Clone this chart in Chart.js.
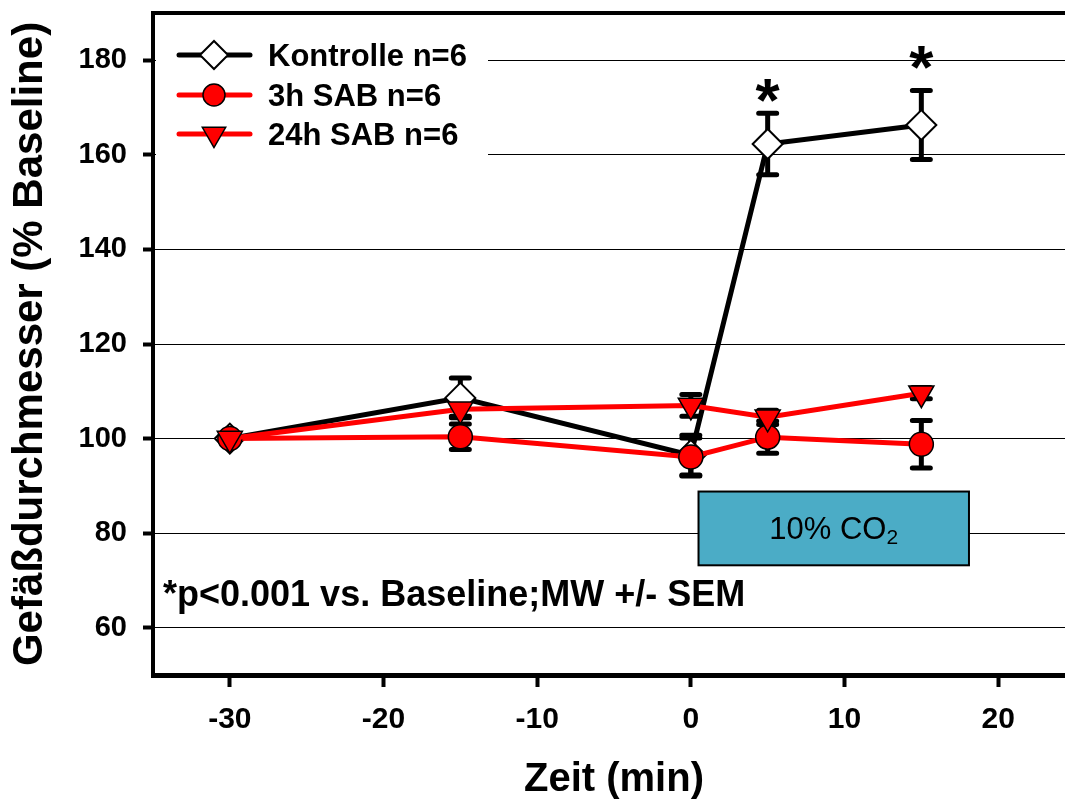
<!DOCTYPE html>
<html>
<head>
<meta charset="utf-8">
<script src="https://cdn.jsdelivr.net/npm/chart.js@4.4.1/dist/chart.umd.min.js"></script>
<style>
  html, body { margin: 0; padding: 0; background: #fff; overflow: hidden; }
  #wrap { position: relative; width: 1065px; height: 805px; overflow: hidden; }
  /* the plot runs past the right edge of the picture, so the canvas is larger and clipped */
  #chart { position: absolute; left: 0; top: -17px; display: block; }
</style>
</head>
<body>
<div id="wrap"><canvas id="chart" width="1105" height="822" style="width:1105px;height:822px"></canvas></div>
<script>
const times = [-30, -15, 0, 5, 15];
const kontrolle = [100, 108.6, 96.5, 162.3, 166.3];
const kontrolleSem = [0, 4.2, 4.2, 6.5, 7.3];
const sab3h = [100, 100.4, 96.1, 100.3, 98.8];
const sab3hSem = [0, 2.7, 4.0, 3.4, 5.0];
const sab24h = [100, 106.2, 107.0, 104.5, 109.6];
const sab24hSem = [0, 1.5, 2.3, 1.5, 1.2];

const xTicks = [-30, -20, -10, 0, 10, 20];
const yTicks = [60, 80, 100, 120, 140, 160, 180];

const starTimes = [5, 15];
const starValues = [173, 180];
const co2Window = [0.5, 18.1];
const co2Range = [73.2, 88.8];
const noteText = '*p<0.001 vs. Baseline;MW +/- SEM';

const FONT = "'Liberation Sans', Arial, sans-serif";

function toPoints(values) {
  return times.map((t, i) => ({ x: t, y: values[i] }));
}

// error bars, CO2 box, legend, stars, note
const decor = {
  id: 'decor',
  beforeDatasetsDraw(chart) {
    const { ctx, scales: { x, y } } = chart;
    ctx.save();

    // 10% CO2 box
    const bx0 = x.getPixelForValue(co2Window[0]);
    const bx1 = x.getPixelForValue(co2Window[1]);
    const by0 = y.getPixelForValue(co2Range[1]);
    const by1 = y.getPixelForValue(co2Range[0]);
    ctx.fillStyle = '#4bacc6';
    ctx.fillRect(bx0, by0, bx1 - bx0, by1 - by0);
    ctx.strokeStyle = '#000';
    ctx.lineWidth = 2;
    ctx.strokeRect(bx0, by0, bx1 - bx0, by1 - by0);

    const main = '10% CO';
    ctx.font = '31px ' + FONT;
    const w1 = ctx.measureText(main).width;
    ctx.font = '21px ' + FONT;
    const w2 = ctx.measureText('2').width;
    const tx = (bx0 + bx1) / 2 - (w1 + w2) / 2;
    const ty = (by0 + by1) / 2 + 11;
    ctx.fillStyle = '#000';
    ctx.textAlign = 'left';
    ctx.textBaseline = 'alphabetic';
    ctx.font = '31px ' + FONT;
    ctx.fillText(main, tx, ty);
    ctx.font = '21px ' + FONT;
    ctx.fillText('2', tx + w1, ty + 5);

    // error bars
    ctx.strokeStyle = '#000';
    ctx.lineWidth = 5;
    chart.data.datasets.forEach(ds => {
      ds.data.forEach((p, i) => {
        const e = ds.sem[i];
        if (!e) return;
        const px = x.getPixelForValue(p.x);
        const top = y.getPixelForValue(p.y + e);
        const bot = y.getPixelForValue(p.y - e);
        ctx.lineCap = 'butt';
        ctx.beginPath();
        ctx.moveTo(px, top);
        ctx.lineTo(px, bot);
        ctx.stroke();
        ctx.lineCap = 'round';
        ctx.beginPath();
        ctx.moveTo(px - 9, top);
        ctx.lineTo(px + 9, top);
        ctx.moveTo(px - 9, bot);
        ctx.lineTo(px + 9, bot);
        ctx.stroke();
      });
    });
    ctx.restore();
  },
  afterDatasetsDraw(chart) {
    const { ctx, chartArea, scales: { x, y } } = chart;
    const oy = chartArea.top - 13; // page y -> canvas y
    ctx.save();

    // top frame line
    ctx.strokeStyle = '#000';
    ctx.lineWidth = 4;
    ctx.beginPath();
    ctx.moveTo(chartArea.left - 2, chartArea.top);
    ctx.lineTo(chartArea.right, chartArea.top);
    ctx.stroke();

    // legend
    ctx.fillStyle = '#fff';
    ctx.fillRect(chartArea.left + 3, oy + 26, 332, 138);
    const rows = [55, 95, 134];
    chart.data.datasets.forEach((ds, i) => {
      const ry = oy + rows[i];
      ctx.strokeStyle = ds.borderColor;
      ctx.lineWidth = 5;
      ctx.lineCap = 'round';
      ctx.beginPath();
      ctx.moveTo(179, ry);
      ctx.lineTo(250, ry);
      ctx.stroke();
      ctx.fillStyle = ds.pointBackgroundColor;
      ctx.strokeStyle = ds.pointBorderColor;
      ctx.lineWidth = ds.pointBorderWidth;
      Chart.helpers.drawPoint(ctx, {
        pointStyle: ds.pointStyle,
        radius: ds.pointRadius - 1,
        rotation: ds.pointRotation || 0,
        borderWidth: ds.pointBorderWidth
      }, 214, ry);
      ctx.fillStyle = '#000';
      ctx.font = 'bold 31px ' + FONT;
      ctx.textAlign = 'left';
      ctx.textBaseline = 'alphabetic';
      ctx.fillText(ds.label, 268, ry + 11);
    });

    // significance stars
    ctx.fillStyle = '#000';
    ctx.font = 'bold 62px ' + FONT;
    ctx.textAlign = 'center';
    starTimes.forEach((t, i) => {
      ctx.fillText('*', x.getPixelForValue(t), y.getPixelForValue(starValues[i]) + 28);
    });

    // note
    ctx.font = 'bold 36px ' + FONT;
    ctx.textAlign = 'left';
    ctx.fillText(noteText, 163, oy + 606);
    ctx.restore();
  }
};

new Chart(document.getElementById('chart'), {
  type: 'line',
  data: {
    datasets: [
      {
        label: 'Kontrolle n=6',
        data: toPoints(kontrolle),
        sem: kontrolleSem,
        borderColor: '#000',
        borderWidth: 5,
        pointStyle: 'rectRot',
        pointRadius: 15,
        pointHoverRadius: 15,
        pointBackgroundColor: '#fff',
        pointBorderColor: '#000',
        pointBorderWidth: 2,
        order: 3
      },
      {
        label: '3h SAB n=6',
        data: toPoints(sab3h),
        sem: sab3hSem,
        borderColor: '#ff0000',
        borderWidth: 5,
        pointStyle: 'circle',
        pointRadius: 12,
        pointHoverRadius: 12,
        pointBackgroundColor: '#ff0000',
        pointBorderColor: '#000',
        pointBorderWidth: 1.5,
        order: 2
      },
      {
        label: '24h SAB n=6',
        data: toPoints(sab24h),
        sem: sab24hSem,
        borderColor: '#ff0000',
        borderWidth: 5,
        pointStyle: 'triangle',
        pointRotation: 180,
        pointRadius: 14.5,
        pointHoverRadius: 14.5,
        pointBackgroundColor: '#ff0000',
        pointBorderColor: '#000',
        pointBorderWidth: 1.5,
        order: 1
      }
    ]
  },
  options: {
    responsive: false,
    animation: false,
    events: [],
    layout: { padding: { top: 30, left: 0, right: 30, bottom: 0 } },
    plugins: {
      legend: { display: false },
      tooltip: { enabled: false }
    },
    scales: {
      x: {
        type: 'linear',
        min: -35,
        max: 25,
        afterBuildTicks: (scale) => { scale.ticks = xTicks.map(v => ({ value: v })); },
        afterFit: (scale) => {
          scale.height = 130;
        },
        border: { display: true, color: '#000', width: 5 },
        grid: {
          drawOnChartArea: false,
          drawTicks: true,
          tickLength: 12,
          tickWidth: 4,
          tickColor: '#000'
        },
        ticks: {
          autoSkip: false,
          maxRotation: 0,
          padding: 15,
          color: '#000',
          font: { family: FONT, size: 30, weight: 'bold' }
        },
        title: {
          display: true,
          text: 'Zeit (min)',
          color: '#000',
          font: { family: FONT, size: 40, weight: 'bold', lineHeight: 1.2 },
          padding: { top: 0, bottom: 1 }
        }
      },
      y: {
        min: 50,
        max: 190,
        afterBuildTicks: (scale) => { scale.ticks = yTicks.map(v => ({ value: v })); },
        afterFit: (scale) => {
          scale.width = 153;
        },
        border: { display: true, color: '#000', width: 4 },
        grid: {
          color: '#000',
          lineWidth: 1,
          drawTicks: true,
          tickLength: 10,
          tickWidth: 4,
          tickColor: '#000'
        },
        ticks: {
          padding: 16,
          color: '#000',
          font: { family: FONT, size: 29, weight: 'bold', lineHeight: 0.8 }
        },
        title: {
          display: true,
          text: 'Gefäßdurchmesser (% Baseline)',
          color: '#000',
          font: { family: FONT, size: 42, weight: 'bold', lineHeight: 1.2 },
          padding: { top: 5, bottom: 0 }
        }
      }
    }
  },
  plugins: [decor]
});
</script>
</body>
</html>
